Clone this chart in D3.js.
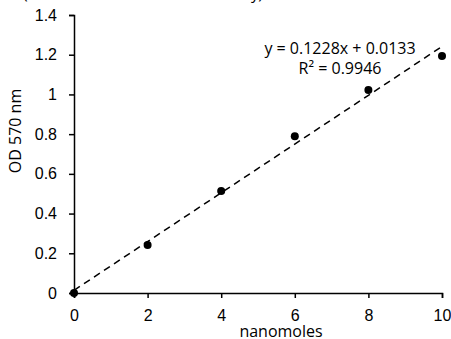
<!DOCTYPE html>
<html>
<head>
<meta charset="UTF-8">
<script src="https://d3js.org/d3.v7.min.js"></script>
<style>
  body { margin: 0; background: #fff; }
  svg { font-family: "Open Sans", "Noto Sans", sans-serif; }
  .tick text { font-size: 16px; fill: #000; }
</style>
</head>
<body>
<div id="chart"></div>
<script>
// data
const nanomoles = [0, 2, 4, 6, 8, 10];
const od570 = [0, 0.242, 0.514, 0.79, 1.022, 1.193];
const xTicks = [0, 2, 4, 6, 8, 10];
const yTicks = [0, 0.2, 0.4, 0.6, 0.8, 1, 1.2, 1.4];
const slope = 0.1228;
const intercept = 0.0133;
const eqLabel = 'y = 0.1228x + 0.0133';
const r2Label = 'R² = 0.9946';

const width = 451, height = 339;
const margin = { top: 15, right: 9, bottom: 46, left: 74 };

const svg = d3.select('#chart').append('svg')
  .attr('width', width)
  .attr('height', height);

const x = d3.scaleLinear().domain([0, 10]).range([margin.left, width - margin.right]);
const y = d3.scaleLinear().domain([0, 1.4]).range([height - margin.bottom, margin.top]);

// title, cut off by the top edge like in the reference
svg.append('text')
  .attr('x', 23).attr('y', -1)
  .attr('textLength', 240)
  .style('font-size', '16px')
  .text('(Colorimetric Standard Curve Assay)');

// axes
const xAxis = svg.append('g')
  .attr('transform', `translate(0,${y(0)})`)
  .call(d3.axisBottom(x).tickValues(xTicks).tickFormat(d3.format('d')).tickSize(5).tickPadding(12));
const yAxis = svg.append('g')
  .attr('transform', `translate(${x(0)},0)`)
  .call(d3.axisLeft(y).tickValues(yTicks).tickFormat(d => d === 0 || d === 1 ? d : d3.format('.1f')(d)).tickSize(5).tickPadding(12));
[xAxis, yAxis].forEach(g => {
  g.select('.domain').attr('stroke', '#000').attr('stroke-width', 1.5);
  g.selectAll('.tick line').attr('stroke', '#000').attr('stroke-width', 1.5);
});

// trendline
const fit = d3.line().x(d => x(d)).y(d => y(slope * d + intercept));
svg.append('path')
  .datum([0, 10])
  .attr('d', fit)
  .attr('fill', 'none')
  .attr('stroke', '#000')
  .attr('stroke-width', 1.5)
  .attr('stroke-dasharray', '7,5');

// points
svg.selectAll('.dot')
  .data(nanomoles)
  .enter().append('circle')
  .attr('class', 'dot')
  .attr('cx', d => x(d))
  .attr('cy', (d, i) => y(od570[i]))
  .attr('r', 4)
  .attr('fill', '#000');

// equation
svg.append('text')
  .attr('x', 340).attr('y', 54)
  .attr('text-anchor', 'middle')
  .style('font-size', '16px')
  .text(eqLabel);
svg.append('text')
  .attr('x', 340).attr('y', 74)
  .attr('text-anchor', 'middle')
  .style('font-size', '16px')
  .text(r2Label);

// axis titles
svg.append('text')
  .attr('x', 281).attr('y', 337)
  .attr('text-anchor', 'middle')
  .style('font-size', '16px')
  .text('nanomoles');
svg.append('text')
  .attr('transform', 'translate(21,131) rotate(-90)')
  .attr('text-anchor', 'middle')
  .style('font-size', '16px')
  .text('OD 570 nm');
</script>
</body>
</html>
